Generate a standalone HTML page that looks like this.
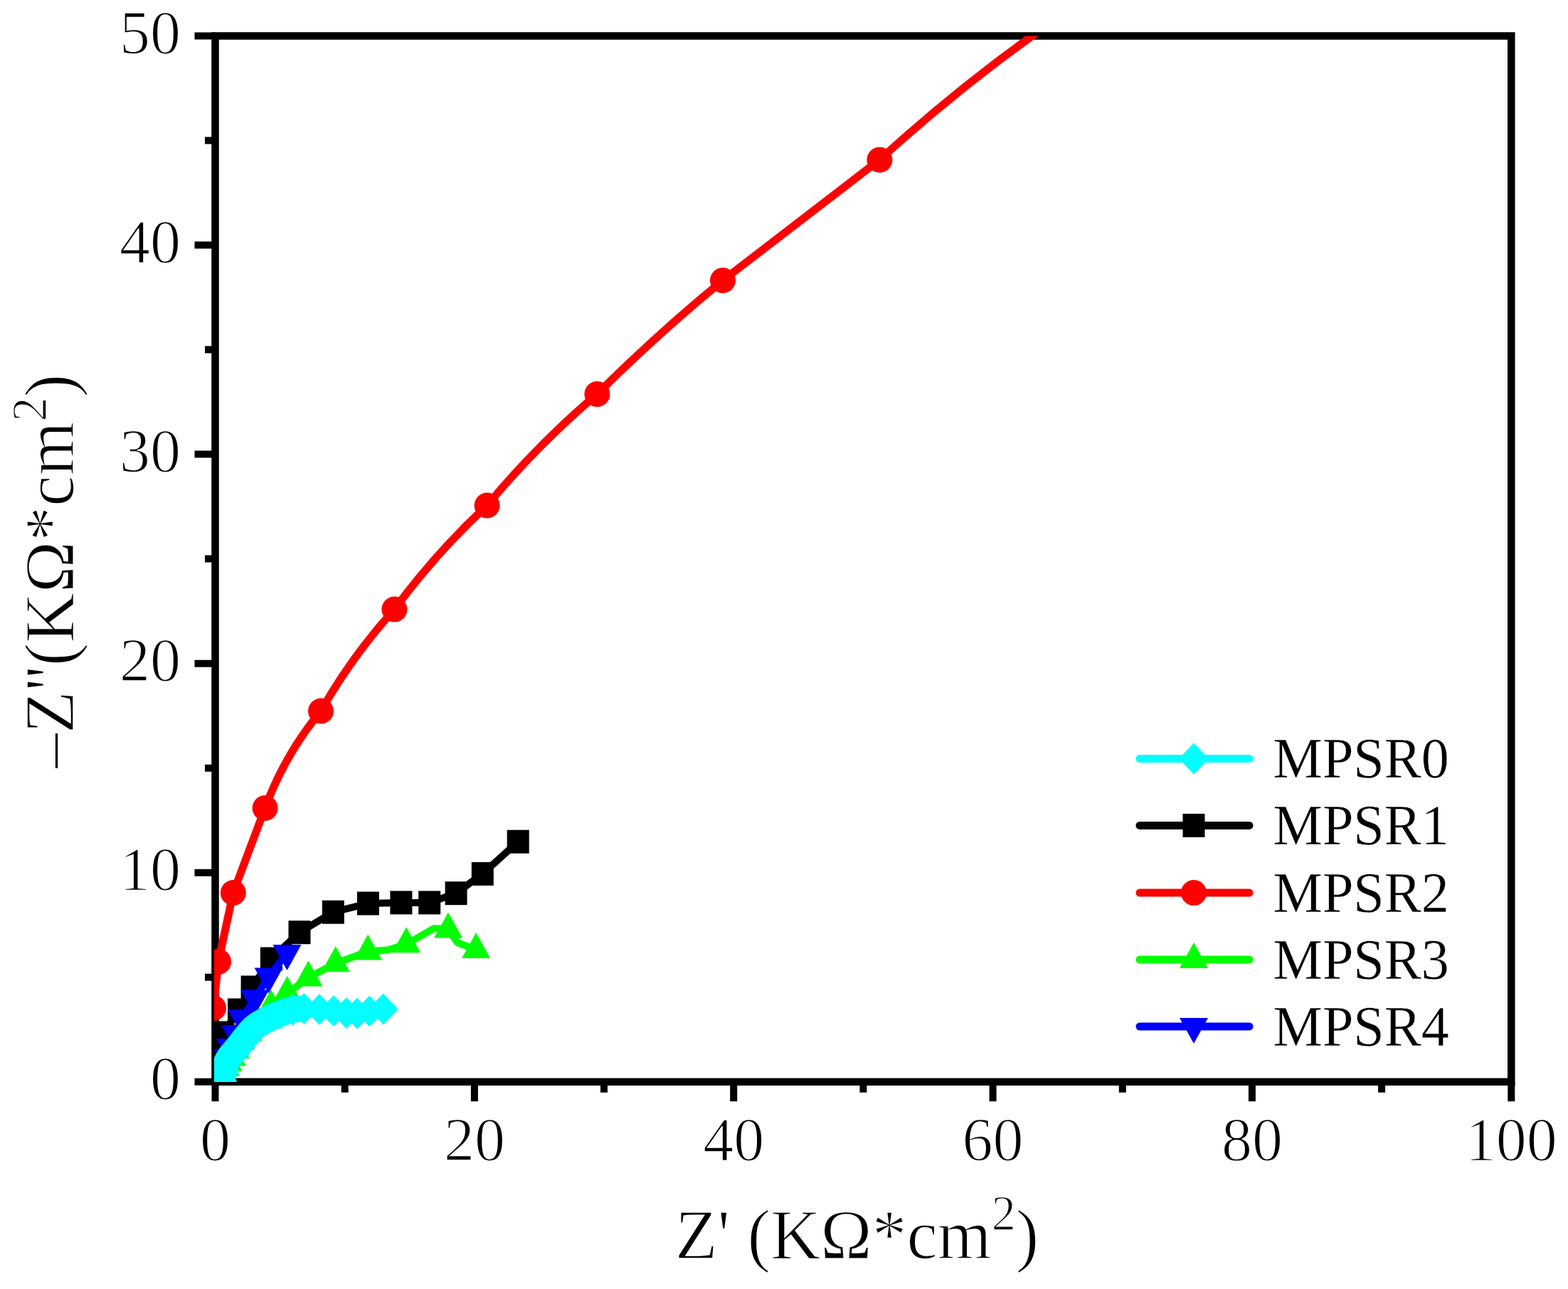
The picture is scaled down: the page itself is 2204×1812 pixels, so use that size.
<!DOCTYPE html><html><head><meta charset="utf-8"><style>html,body{margin:0;padding:0;background:#fff;}svg{display:block;}text{font-family:"Liberation Serif","Times New Roman",serif;fill:#000;stroke:#fff;stroke-width:1.6px;paint-order:normal;}</style></head><body>
<svg width="2204" height="1812" viewBox="0 0 2204 1812">
<rect width="2204" height="1812" fill="#fff"/>
<defs><clipPath id="pc"><rect x="301" y="50.5" width="1823.3000000000002" height="1470.5"/></clipPath></defs>
<rect x="302.5" y="50.5" width="1821.80" height="1470.30" fill="none" stroke="#000" stroke-width="10.5"/>
<path d="M273.5 1520.8H302.5 M273.5 1226.7H302.5 M273.5 932.7H302.5 M273.5 638.6H302.5 M273.5 344.6H302.5 M273.5 50.5H302.5 M288.0 1373.8H302.5 M288.0 1079.7H302.5 M288.0 785.6H302.5 M288.0 491.6H302.5 M288.0 197.5H302.5 M302.5 1520.8V1548.3 M666.9 1520.8V1548.3 M1031.2 1520.8V1548.3 M1395.6 1520.8V1548.3 M1759.9 1520.8V1548.3 M2124.3 1520.8V1548.3 M484.7 1520.8V1535.8 M849.0 1520.8V1535.8 M1213.4 1520.8V1535.8 M1577.8 1520.8V1535.8 M1942.1 1520.8V1535.8" stroke="#000" stroke-width="10" fill="none"/>
<text x="254" y="1544.8" font-size="86" text-anchor="end">0</text>
<text x="254" y="1250.7" font-size="86" text-anchor="end">10</text>
<text x="254" y="956.7" font-size="86" text-anchor="end">20</text>
<text x="254" y="662.6" font-size="86" text-anchor="end">30</text>
<text x="254" y="368.6" font-size="86" text-anchor="end">40</text>
<text x="254" y="74.5" font-size="86" text-anchor="end">50</text>
<text x="302.5" y="1630.5" font-size="86" text-anchor="middle">0</text>
<text x="666.9" y="1630.5" font-size="86" text-anchor="middle">20</text>
<text x="1031.2" y="1630.5" font-size="86" text-anchor="middle">40</text>
<text x="1395.6" y="1630.5" font-size="86" text-anchor="middle">60</text>
<text x="1759.9" y="1630.5" font-size="86" text-anchor="middle">80</text>
<text x="2124.3" y="1630.5" font-size="86" text-anchor="middle">100</text>
<text transform="translate(949,1769) scale(0.975,1)" font-size="100">Z' (KΩ*cm<tspan dy="-40" font-size="70">2</tspan><tspan dy="40">)</tspan></text>
<text transform="translate(103,1079.7) rotate(-90) scale(0.976,1)" font-size="100">–Z''(KΩ*cm<tspan dy="-38.5" font-size="70">2</tspan><tspan dy="38.5">)</tspan></text>
<g clip-path="url(#pc)">
<path d="M302.0 1498.0 L302.0 1475.0 L314.0 1452.0 L335.5 1420.0 L354.1 1388.0 L381.4 1348.0 L421.0 1310.7 L468.3 1282.2 L517.4 1270.0 L563.9 1268.9 L603.7 1268.9 L641.1 1255.7 L678.3 1228.4 L728.2 1183.2" fill="none" stroke="#000000" stroke-width="10" stroke-linejoin="round"/>
<rect x="286.5" y="1481.5" width="31" height="33" fill="#000000"/><rect x="286.5" y="1458.5" width="31" height="33" fill="#000000"/><rect x="298.5" y="1435.5" width="31" height="33" fill="#000000"/><rect x="320.0" y="1403.5" width="31" height="33" fill="#000000"/><rect x="338.6" y="1371.5" width="31" height="33" fill="#000000"/><rect x="365.9" y="1331.5" width="31" height="33" fill="#000000"/><rect x="405.5" y="1294.2" width="31" height="33" fill="#000000"/><rect x="452.8" y="1265.7" width="31" height="33" fill="#000000"/><rect x="501.9" y="1253.5" width="31" height="33" fill="#000000"/><rect x="548.4" y="1252.4" width="31" height="33" fill="#000000"/><rect x="588.2" y="1252.4" width="31" height="33" fill="#000000"/><rect x="625.6" y="1239.2" width="31" height="33" fill="#000000"/><rect x="662.8" y="1211.9" width="31" height="33" fill="#000000"/><rect x="712.7" y="1166.7" width="31" height="33" fill="#000000"/>
<path d="M300 1417 L307 1352 L327.8 1255.1 L372.6 1135.9 Q400.2 1061 451 999.6 Q494.8 922.4 554.4 856.6 Q612.6 777.5 684.6 710.6 Q755.2 625.6 839.4 554 Q923.7 469.7 1016 394.2 L1236.4 224.7 Q1338.1 131.6 1450 51 L1506 10.7" fill="none" stroke="#ff0000" stroke-width="11" stroke-linejoin="round"/>
<circle cx="300.0" cy="1417.0" r="18" fill="#ff0000"/><circle cx="307.0" cy="1352.0" r="18" fill="#ff0000"/><circle cx="327.8" cy="1255.1" r="18" fill="#ff0000"/><circle cx="372.6" cy="1135.9" r="18" fill="#ff0000"/><circle cx="451.0" cy="999.6" r="18" fill="#ff0000"/><circle cx="554.4" cy="856.6" r="18" fill="#ff0000"/><circle cx="684.6" cy="710.6" r="18" fill="#ff0000"/><circle cx="839.4" cy="554.0" r="18" fill="#ff0000"/><circle cx="1016.0" cy="394.2" r="18" fill="#ff0000"/><circle cx="1236.4" cy="224.7" r="18" fill="#ff0000"/>
<path d="M308.0 1521.0 L312.0 1510.0 L317.0 1500.4 L320.5 1493.4 L326.0 1486.5 L330.9 1476.1 L338.5 1463.7 L348.8 1451.3 L360.6 1435.3 L381.0 1415.0 L403.7 1396.1 L433.4 1374.5 L471.7 1354.2 L517.1 1337.6 L545.0 1335.5 L571.1 1327.3 L610.0 1305.0 L630.0 1306.5 L643.0 1325.0 L669.1 1335.1" fill="none" stroke="#00ff00" stroke-width="10" stroke-linejoin="round"/>
<path d="M288.0 1533.0L308.0 1497.0L328.0 1533.0Z" fill="#00ff00"/><path d="M292.0 1522.0L312.0 1486.0L332.0 1522.0Z" fill="#00ff00"/><path d="M297.0 1512.4L317.0 1476.4L337.0 1512.4Z" fill="#00ff00"/><path d="M300.5 1505.4L320.5 1469.4L340.5 1505.4Z" fill="#00ff00"/><path d="M306.0 1498.5L326.0 1462.5L346.0 1498.5Z" fill="#00ff00"/><path d="M310.9 1488.1L330.9 1452.1L350.9 1488.1Z" fill="#00ff00"/><path d="M318.5 1475.7L338.5 1439.7L358.5 1475.7Z" fill="#00ff00"/><path d="M328.8 1463.3L348.8 1427.3L368.8 1463.3Z" fill="#00ff00"/><path d="M340.6 1447.3L360.6 1411.3L380.6 1447.3Z" fill="#00ff00"/><path d="M361.0 1427.0L381.0 1391.0L401.0 1427.0Z" fill="#00ff00"/><path d="M383.7 1408.1L403.7 1372.1L423.7 1408.1Z" fill="#00ff00"/><path d="M413.4 1386.5L433.4 1350.5L453.4 1386.5Z" fill="#00ff00"/><path d="M451.7 1366.2L471.7 1330.2L491.7 1366.2Z" fill="#00ff00"/><path d="M497.1 1349.6L517.1 1313.6L537.1 1349.6Z" fill="#00ff00"/><path d="M551.1 1339.3L571.1 1303.3L591.1 1339.3Z" fill="#00ff00"/><path d="M610.0 1318.5L630.0 1282.5L650.0 1318.5Z" fill="#00ff00"/><path d="M649.1 1347.1L669.1 1311.1L689.1 1347.1Z" fill="#00ff00"/>
<path d="M310.0 1521.0 L315.0 1505.0 L320.5 1486.5 L324.0 1472.0 L331.0 1453.0 L340.0 1431.2 L358.2 1403.6 L377.6 1372.5 L403.5 1340.0" fill="none" stroke="#0000ff" stroke-width="10" stroke-linejoin="round"/>
<path d="M290.0 1509.0L310.0 1545.0L330.0 1509.0Z" fill="#0000ff"/><path d="M295.0 1493.0L315.0 1529.0L335.0 1493.0Z" fill="#0000ff"/><path d="M300.5 1474.5L320.5 1510.5L340.5 1474.5Z" fill="#0000ff"/><path d="M304.0 1460.0L324.0 1496.0L344.0 1460.0Z" fill="#0000ff"/><path d="M311.0 1441.0L331.0 1477.0L351.0 1441.0Z" fill="#0000ff"/><path d="M320.0 1419.2L340.0 1455.2L360.0 1419.2Z" fill="#0000ff"/><path d="M338.2 1391.6L358.2 1427.6L378.2 1391.6Z" fill="#0000ff"/><path d="M357.6 1360.5L377.6 1396.5L397.6 1360.5Z" fill="#0000ff"/><path d="M383.5 1328.0L403.5 1364.0L423.5 1328.0Z" fill="#0000ff"/>
<path d="M312.2 1520.0 C312.6 1518.0 313.7 1511.9 314.5 1508.0 C315.3 1504.1 315.7 1500.4 317.2 1496.6 C318.7 1492.8 320.9 1488.8 323.5 1485.0 C326.1 1481.2 329.4 1478.0 332.9 1473.7 C336.4 1469.5 340.6 1464.2 344.5 1459.5 C348.4 1454.8 352.6 1448.8 356.2 1445.3 C359.8 1441.8 362.6 1440.6 366.0 1438.5 C369.4 1436.4 371.7 1435.0 376.3 1432.7 C380.9 1430.4 387.8 1427.1 393.5 1424.9 C399.2 1422.7 405.1 1420.7 410.8 1419.5 C416.5 1418.3 421.1 1418.1 427.5 1418.0 C433.9 1417.9 442.1 1418.5 449.0 1419.0 C455.9 1419.5 462.7 1420.2 469.0 1421.0 C475.3 1421.8 481.5 1423.4 487.0 1424.0 C492.5 1424.6 496.6 1424.9 502.0 1424.5 C507.4 1424.1 513.3 1422.5 519.4 1421.5 C525.5 1420.5 535.5 1419.1 538.7 1418.6" fill="none" stroke="#00ffff" stroke-width="10" stroke-linejoin="round"/>
<path d="M312.0 1530.0 C312.0 1528.3 311.3 1525.6 312.2 1520.0 C313.1 1514.4 315.3 1502.4 317.2 1496.6 C319.1 1490.8 320.9 1488.8 323.5 1485.0 C326.1 1481.2 327.4 1480.3 332.9 1473.7 C338.3 1467.1 349.0 1452.1 356.2 1445.3 C363.4 1438.5 370.1 1436.1 376.3 1432.7 C382.5 1429.3 387.8 1427.1 393.5 1424.9 C399.2 1422.7 405.2 1420.7 410.8 1419.5 C416.4 1418.3 424.3 1418.2 427.0 1418.0" fill="none" stroke="#00ffff" stroke-width="37" stroke-linejoin="round"/>
<path d="M291.2 1520.0L312.2 1498.0L333.2 1520.0L312.2 1542.0Z" fill="#00ffff"/><path d="M293.5 1508.0L314.5 1486.0L335.5 1508.0L314.5 1530.0Z" fill="#00ffff"/><path d="M296.2 1496.6L317.2 1474.6L338.2 1496.6L317.2 1518.6Z" fill="#00ffff"/><path d="M302.5 1485.0L323.5 1463.0L344.5 1485.0L323.5 1507.0Z" fill="#00ffff"/><path d="M311.9 1473.7L332.9 1451.7L353.9 1473.7L332.9 1495.7Z" fill="#00ffff"/><path d="M323.5 1459.5L344.5 1437.5L365.5 1459.5L344.5 1481.5Z" fill="#00ffff"/><path d="M335.2 1445.3L356.2 1423.3L377.2 1445.3L356.2 1467.3Z" fill="#00ffff"/><path d="M345.0 1438.5L366.0 1416.5L387.0 1438.5L366.0 1460.5Z" fill="#00ffff"/><path d="M355.3 1432.7L376.3 1410.7L397.3 1432.7L376.3 1454.7Z" fill="#00ffff"/><path d="M372.5 1424.9L393.5 1402.9L414.5 1424.9L393.5 1446.9Z" fill="#00ffff"/><path d="M389.8 1419.5L410.8 1397.5L431.8 1419.5L410.8 1441.5Z" fill="#00ffff"/><path d="M406.5 1418.0L427.5 1396.0L448.5 1418.0L427.5 1440.0Z" fill="#00ffff"/><path d="M428.0 1419.0L449.0 1397.0L470.0 1419.0L449.0 1441.0Z" fill="#00ffff"/><path d="M448.0 1421.0L469.0 1399.0L490.0 1421.0L469.0 1443.0Z" fill="#00ffff"/><path d="M466.0 1424.0L487.0 1402.0L508.0 1424.0L487.0 1446.0Z" fill="#00ffff"/><path d="M481.0 1424.5L502.0 1402.5L523.0 1424.5L502.0 1446.5Z" fill="#00ffff"/><path d="M498.4 1421.5L519.4 1399.5L540.4 1421.5L519.4 1443.5Z" fill="#00ffff"/><path d="M517.7 1418.6L538.7 1396.6L559.7 1418.6L538.7 1440.6Z" fill="#00ffff"/>
</g>
<path d="M1602 1066.4H1756" stroke="#00ffff" stroke-width="11" stroke-linecap="round"/>
<path d="M1657.0 1066.4L1678.0 1044.4L1699.0 1066.4L1678.0 1088.4Z" fill="#00ffff"/>
<text transform="translate(1789.5,1093.4) scale(0.976,1)" style="stroke-width:0.4px" font-size="80">MPSR0</text>
<path d="M1602 1160.4H1756" stroke="#000000" stroke-width="11" stroke-linecap="round"/>
<rect x="1662.5" y="1143.9" width="31" height="33" fill="#000000"/>
<text transform="translate(1789.5,1187.4) scale(0.976,1)" style="stroke-width:0.4px" font-size="80">MPSR1</text>
<path d="M1602 1255H1756" stroke="#ff0000" stroke-width="11" stroke-linecap="round"/>
<circle cx="1678.0" cy="1255.0" r="18" fill="#ff0000"/>
<text transform="translate(1789.5,1282.0) scale(0.976,1)" style="stroke-width:0.4px" font-size="80">MPSR2</text>
<path d="M1602 1349H1756" stroke="#00ff00" stroke-width="11" stroke-linecap="round"/>
<path d="M1658.0 1361.0L1678.0 1325.0L1698.0 1361.0Z" fill="#00ff00"/>
<text transform="translate(1789.5,1376.0) scale(0.976,1)" style="stroke-width:0.4px" font-size="80">MPSR3</text>
<path d="M1602 1443H1756" stroke="#0000ff" stroke-width="11" stroke-linecap="round"/>
<path d="M1658.0 1431.0L1678.0 1467.0L1698.0 1431.0Z" fill="#0000ff"/>
<text transform="translate(1789.5,1470.0) scale(0.976,1)" style="stroke-width:0.4px" font-size="80">MPSR4</text>
</svg></body></html>
